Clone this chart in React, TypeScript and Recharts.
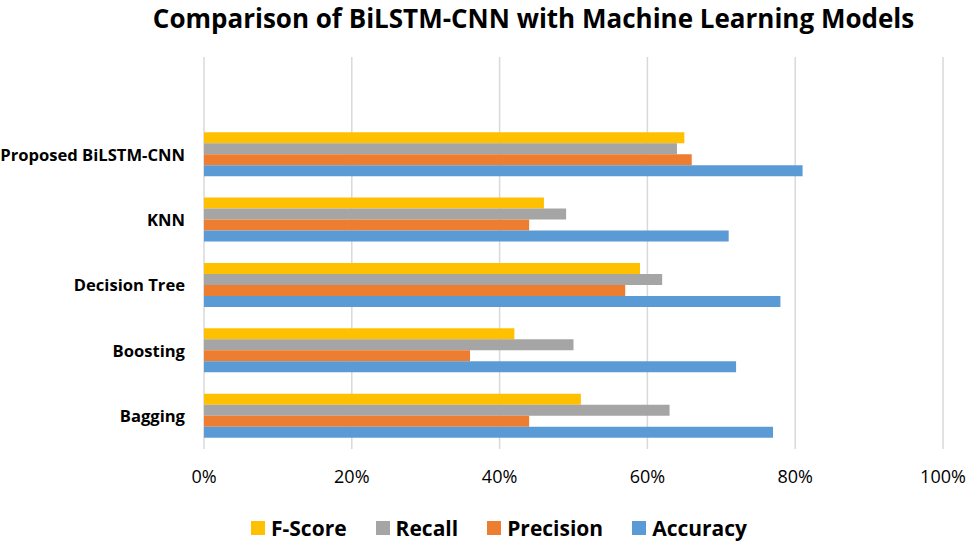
import React from 'react';
import { BarChart, Bar, XAxis, YAxis, CartesianGrid, Legend } from 'recharts';

const models = ['Proposed BiLSTM-CNN', 'KNN', 'Decision Tree', 'Boosting', 'Bagging'];
const fScore = [65, 46, 59, 42, 51];
const recall = [64, 49, 62, 50, 63];
const precision = [66, 44, 57, 36, 44];
const accuracy = [81, 71, 78, 72, 77];
const xTicks = [0, 20, 40, 60, 80, 100];

const SERIES = [
  { key: 'fScore', name: 'F-Score', color: '#FFC000' },
  { key: 'recall', name: 'Recall', color: '#A5A5A5' },
  { key: 'precision', name: 'Precision', color: '#ED7D31' },
  { key: 'accuracy', name: 'Accuracy', color: '#5B9BD5' },
];

const data = models.map((m, i) => ({
  model: m,
  fScore: fScore[i],
  recall: recall[i],
  precision: precision[i],
  accuracy: accuracy[i],
}));

const FONT = '"Open Sans", Lato, sans-serif';

function LegendRow() {
  return (
    <div style={{ display: 'flex', alignItems: 'center', paddingLeft: 251, height: 28, fontFamily: FONT, fontWeight: 700, fontSize: 21, color: '#000' }}>
      {SERIES.map(s => (
        <div key={s.key} style={{ display: 'flex', alignItems: 'center', marginRight: 29 }}>
          <span style={{ width: 14, height: 14, background: s.color, display: 'inline-block', marginRight: 6 }} />
          <span>{s.name}</span>
        </div>
      ))}
    </div>
  );
}

export default function App() {
  return (
    <div style={{ position: 'absolute', left: 0, top: 0, width: 967, height: 541, background: '#fff' }}>
      <div style={{ position: 'absolute', left: 0, width: 1067, top: 0, textAlign: 'center', fontFamily: FONT, fontWeight: 700, fontSize: 26, lineHeight: 'normal', color: '#000' }}>
        Comparison of BiLSTM-CNN with Machine Learning Models
      </div>
      <BarChart
        width={967}
        height={541}
        data={data}
        layout="vertical"
        margin={{ top: 57, right: 24, left: 0, bottom: 0 }}
        barCategoryGap="15.5%"
        barGap={0}
      >
        <CartesianGrid horizontal={false} stroke="#d9d9d9" strokeWidth={1.5} />
        <XAxis
          type="number"
          domain={[0, 100]}
          ticks={xTicks}
          tickFormatter={(v: number) => `${v}%`}
          axisLine={false}
          tickLine={false}
          tickMargin={15}
          height={64}
          tick={{ fill: '#000', fontSize: 18, fontFamily: FONT }}
        />
        <YAxis
          type="category"
          dataKey="model"
          width={204}
          axisLine={false}
          tickLine={false}
          tickMargin={13}
          padding={{ top: 65, bottom: 0 }}
          tick={{ fill: '#000', fontSize: 16.6, fontWeight: 700, fontFamily: FONT }}
        />
        <Legend
          verticalAlign="bottom"
          content={() => <LegendRow />}
          wrapperStyle={{ left: 0, width: 967, bottom: -1, height: 28 }}
        />
        {SERIES.map(s => (
          <Bar key={s.key} dataKey={s.key} name={s.name} fill={s.color} isAnimationActive={false} />
        ))}
      </BarChart>
    </div>
  );
}
